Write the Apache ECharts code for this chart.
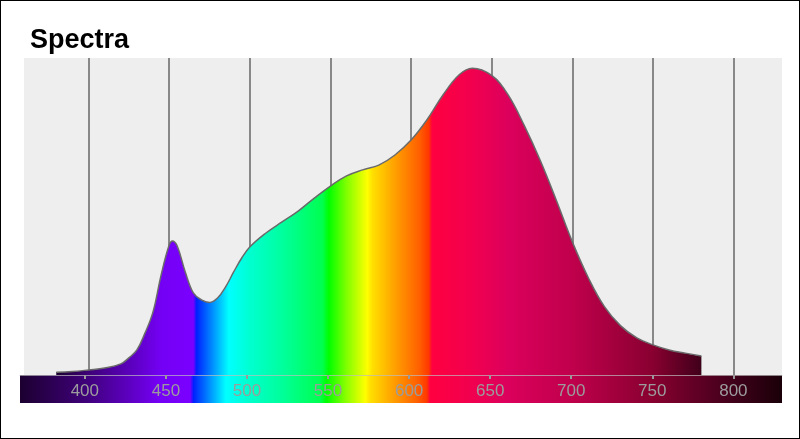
<!DOCTYPE html>
<html>
<head>
<meta charset="utf-8">
<script src="https://cdn.jsdelivr.net/npm/echarts@6/dist/echarts.min.js"></script>
<style>
  html, body { margin: 0; padding: 0; background: #fff; }
  #chart { width: 800px; height: 439px; box-sizing: border-box; border: 1px solid #000; }
</style>
</head>
<body>
<div id="chart"></div>
<script>
// ---- data ----
const wavelengths = [380, 390, 400, 410, 420, 425, 430, 435, 440, 445, 450, 452, 455, 460, 465, 470, 475, 480, 485, 490, 495, 500, 510, 520, 530, 540, 550, 560, 570, 580, 590, 600, 610, 620, 630, 638, 650, 660, 670, 680, 690, 700, 710, 720, 730, 740, 750, 760, 770, 780];
const intensity   = [0.009, 0.011, 0.016, 0.022, 0.035, 0.054, 0.079, 0.132, 0.199, 0.315, 0.41, 0.423, 0.407, 0.325, 0.259, 0.237, 0.229, 0.243, 0.278, 0.325, 0.369, 0.404, 0.448, 0.483, 0.517, 0.558, 0.596, 0.628, 0.647, 0.662, 0.694, 0.741, 0.806, 0.885, 0.948, 0.968, 0.945, 0.885, 0.789, 0.678, 0.552, 0.42, 0.306, 0.215, 0.155, 0.117, 0.095, 0.079, 0.069, 0.06];
const axisRange = [360, 830];
const tickLabels = [400, 450, 500, 550, 600, 650, 700, 750, 800];
const titleText = 'Spectra';

// ---- style: spectrum colour stops (nm -> colour) ----
const SPEC = [
  [360, '#1c0030'], [400, '#3e0078'], [430, '#6000c8'], [445, '#7400f4'], [465, '#7a00ff'],
  [467, '#0020ff'], [487, '#00ffff'], [500, '#00ffd0'], [520, '#00ff9e'], [545, '#00ff50'],
  [549, '#00ff00'], [560, '#80ff00'], [573, '#ffff00'], [576, '#ffe000'], [590, '#ffa000'],
  [605, '#ff6000'], [611, '#ff3800'], [613, '#ff0040'], [640, '#f00050'], [660, '#dc005c'],
  [700, '#c0004c'], [750, '#880030'], [800, '#40001a'], [830, '#1a0008']
];
function stopsFor(a, b) {
  return SPEC.map(([nm, c]) => ({ offset: Math.min(1, Math.max(0, (nm - a) / (b - a))), color: c }));
}
function grad(a, b) {
  return new echarts.graphic.LinearGradient(0, 0, 1, 0, stopsFor(a, b));
}

const chart = echarts.init(document.getElementById('chart'), null, { renderer: 'canvas' });
const areaData = wavelengths.map((w, i) => [w, intensity[i]]);
const stripData = [[axisRange[0], 1], [axisRange[1], 1]];

chart.setOption({
  animation: false,
  backgroundColor: '#fff',
  title: {
    text: titleText, left: 24, top: 21,
    textStyle: { fontFamily: 'Liberation Sans, Arial, sans-serif', fontSize: 27, fontWeight: 'bold', color: '#000' }
  },
  grid: [
    { left: 23, right: 17, top: 57, height: 317, show: true, backgroundColor: '#eeeeee', borderWidth: 0 },
    { left: 19, right: 17, top: 374, height: 28, show: false }
  ],
  xAxis: [
    {
      gridIndex: 0, type: 'value', min: axisRange[0], max: axisRange[1], splitNumber: 9,
      axisLine: { show: false, onZero: false }, axisTick: { show: false }, axisLabel: { show: false },
      splitLine: { show: true, showMinLine: false, showMaxLine: false, lineStyle: { color: '#888', width: 2 } }
    },
    {
      gridIndex: 1, type: 'value', min: axisRange[0], max: axisRange[1], position: 'top', z: 10,
      axisLine: { show: true, onZero: false, lineStyle: { color: 'rgba(190,190,190,0.7)', width: 1 } },
      axisTick: { show: true, inside: true, length: 4, customValues: tickLabels, lineStyle: { color: '#9a9a9a', width: 2 } },
      axisLabel: { show: true, inside: true, margin: 8, customValues: tickLabels, color: '#9c9c9c',
        fontFamily: 'Liberation Sans, Arial, sans-serif', fontSize: 17 },
      splitLine: { show: false }
    }
  ],
  yAxis: [
    { gridIndex: 0, type: 'value', min: 0, max: 1, show: false, splitLine: { show: false } },
    { gridIndex: 1, type: 'value', min: 0, max: 1, show: false, splitLine: { show: false } }
  ],
  series: [
    {
      type: 'line', xAxisIndex: 1, yAxisIndex: 1, data: stripData, symbol: 'none',
      lineStyle: { width: 0 }, areaStyle: { opacity: 1, color: grad(axisRange[0], axisRange[1]) }, z: 1
    },
    {
      type: 'line', xAxisIndex: 0, yAxisIndex: 0, data: areaData, symbol: 'none', smooth: 0.4,
      lineStyle: { color: '#6a6a6a', width: 1.5 },
      areaStyle: { opacity: 1, color: grad(wavelengths[0], wavelengths[wavelengths.length - 1]) }, z: 3
    }
  ]
});
</script>
</body>
</html>
